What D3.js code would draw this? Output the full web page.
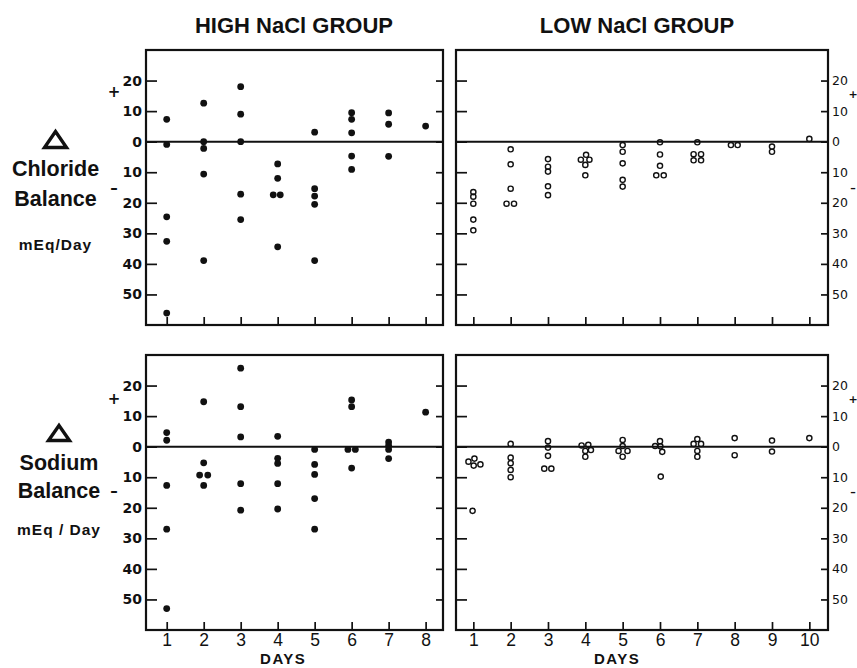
<!DOCTYPE html>
<html><head><meta charset="utf-8">
<script src="https://cdn.jsdelivr.net/npm/d3@7"></script>
<style>body{margin:0;background:#fff}svg{display:block}</style>
</head><body>
<svg id="c" width="857" height="668"></svg>
<script>
// ---- data (day, Δ balance mEq/day) ----
const chlorideHigh = [
  [1,7.3],[1,-0.9],[1,-24.6],[1,-32.6],[1,-56.1],
  [2,12.6],[2,0],[2,-2.2],[2,-10.6],[2,-38.9],
  [3,18],[3,9],[3,0],[3,-17.2],[3,-25.5],
  [4,-7.3],[4,-12],[3.88,-17.4],[4.07,-17.4],[4,-34.4],
  [5,3.1],[5,-15.4],[5,-17.8],[5,-20.5],[5,-38.9],
  [6,9.5],[6,7.3],[6,2.9],[6,-4.7],[6,-9.1],
  [7,9.4],[7,5.7],[7,-4.8],
  [8,5.1]
];
const sodiumHigh = [
  [1,4.6],[1,2.1],[1,-12.7],[1,-27],[1,-53],
  [2,14.7],[2,-5.3],[1.89,-9.3],[2.11,-9.3],[2,-12.7],
  [3,25.7],[3,13.1],[3,3.2],[3,-12.1],[3,-20.8],
  [4,3.4],[4,-3.8],[4,-5.5],[4,-12.1],[4,-20.4],
  [5,-0.9],[5,-5.8],[5,-9.1],[5,-17],[5,-27],
  [6,15.3],[6,13.1],[5.9,-0.9],[6.1,-0.9],[6,-7],
  [7,1.5],[7,0.3],[7,-0.9],[7,-3.9],
  [8,11.3]
];
const chlorideLow = [
  [1,-16.5],[1,-18],[1,-20.3],[1,-25.5],[1,-29],
  [2,-2.5],[2,-7.4],[2,-15.4],[1.89,-20.3],[2.09,-20.3],
  [3,-5.7],[3,-8.2],[3,-9.8],[3,-14.6],[3,-17.5],
  [4.02,-4.3],[3.88,-5.9],[4.11,-5.9],[4,-7.6],[4,-11],
  [5,-1.1],[5,-3.3],[5,-7.1],[5,-12.5],[5,-14.7],
  [6,-0.2],[6,-4.2],[6,-7.9],[5.9,-11],[6.1,-11],
  [7,-0.2],[6.9,-4.1],[7.1,-4.1],[6.9,-6.1],[7.1,-6.1],
  [7.9,-1.1],[8.08,-1.1],
  [9,-1.6],[9,-3.3],
  [10,0.9]
];
const sodiumLow = [
  [0.87,-4.9],[1.03,-3.9],[1.01,-6.2],[1.19,-5.8],[0.98,-21],
  [2,0.9],[2,-3.6],[2,-5.4],[2,-7.6],[2,-10],
  [3,1.8],[3,-0.3],[3,-3],[2.9,-7.2],[3.09,-7.2],
  [3.9,0.4],[4.08,0.6],[4,-1.4],[4.15,-1.1],[4,-3.3],
  [5,2.2],[5,0.2],[4.89,-1.4],[5.13,-1.4],[5,-3.3],
  [5.87,0.2],[6,1.8],[6.01,0.1],[6.06,-1.7],[6.02,-9.8],
  [7,2.5],[6.9,0.9],[7.1,0.9],[7,-1.4],[7,-3.3],
  [8,2.8],[8,-2.8],
  [9,2],[9,-1.6],
  [10,2.8]
];
const yTicks = [20,10,0,-10,-20,-30,-40,-50];
const daysHigh = [1,2,3,4,5,6,7,8];
const daysLow = [1,2,3,4,5,6,7,8,9,10];
const groupTitles = ["HIGH NaCl GROUP","LOW NaCl GROUP"];
const rowLabels = [["Chloride","Balance","mEq/Day"],["Sodium","Balance","mEq / Day"]];
const xAxisTitle = "DAYS";

const svg = d3.select("#c");
const ink = "#111";

const cols = [
  {x0:146, x1:443, domain:[0.44,8.47], days:daysHigh, filled:true},
  {x0:456, x1:828, domain:[0.536,10.5], days:daysLow, filled:false}
];
const rows = [{y0:50, y1:325}, {y0:355, y1:630}];
const panels = [
  {c:0,r:0,data:chlorideHigh},{c:1,r:0,data:chlorideLow},
  {c:0,r:1,data:sodiumHigh},{c:1,r:1,data:sodiumLow}
];

panels.forEach(p => {
  const C = cols[p.c], R = rows[p.r];
  const x = d3.scaleLinear().domain(C.domain).range([C.x0, C.x1]);
  const y = d3.scaleLinear().domain([30,-60]).range([R.y0, R.y1]);
  const g = svg.append("g");

  const la = g.append("g").attr("transform",`translate(${C.x0},0)`)
    .call(d3.axisLeft(y).tickValues(yTicks).tickSize(-11).tickPadding(4)
      .tickFormat(p.c===0 ? d=>Math.abs(d) : ()=>""));
  const ra = g.append("g").attr("transform",`translate(${C.x1},0)`)
    .call(d3.axisRight(y).tickValues(yTicks).tickSize(-7).tickPadding(4)
      .tickFormat(p.c===1 ? d=>Math.abs(d) : ()=>""));
  const ba = g.append("g").attr("transform",`translate(0,${R.y1})`)
    .call(d3.axisBottom(x).tickValues(C.days).tickSize(-8).tickPadding(4)
      .tickFormat(p.r===1 ? d=>d : ()=>""));
  [la,ra,ba].forEach(a => {
    a.select(".domain").remove();
    a.selectAll(".tick line").attr("stroke",ink).attr("stroke-width",1.7);
  });
  la.selectAll("text").attr("font-family","DejaVu Sans").attr("font-weight","bold")
    .attr("font-size",14).attr("fill",ink);
  ra.selectAll("text").attr("font-family","DejaVu Sans")
    .attr("font-size",12.5).attr("fill",ink);
  ba.selectAll("text").attr("font-family","Liberation Sans")
    .attr("font-size",17.5).attr("fill",ink);

  g.append("line").attr("x1",C.x0).attr("x2",C.x1)
    .attr("y1",y(0)).attr("y2",y(0)).attr("stroke",ink).attr("stroke-width",2);
  g.append("rect").attr("x",C.x0).attr("y",R.y0)
    .attr("width",C.x1-C.x0).attr("height",R.y1-R.y0)
    .attr("fill","none").attr("stroke",ink).attr("stroke-width",2.2);

  g.selectAll("circle.pt").data(p.data).join("circle").attr("class","pt")
    .attr("cx",d=>x(d[0])).attr("cy",d=>y(d[1]))
    .attr("r", C.filled ? 3.4 : 2.6)
    .attr("fill", C.filled ? ink : "none")
    .attr("stroke", ink).attr("stroke-width", C.filled ? 0 : 1.4);

  if (p.r===1) {
    g.append("text").attr("x", p.c===0 ? x(4.15) : x(4.85)).attr("y",664)
      .attr("text-anchor","middle").attr("font-family","Liberation Sans")
      .attr("font-weight","bold").attr("font-size",15).attr("letter-spacing",1.5)
      .attr("fill",ink).text(xAxisTitle);
  }
});

[294, 637].forEach((cx,i) => {
  svg.append("text").attr("x",cx).attr("y",33).attr("text-anchor","middle")
    .attr("font-family","Liberation Sans").attr("font-weight","bold")
    .attr("font-size",22).attr("fill",ink).text(groupTitles[i]);
});

const rowLab = [
  {tri:[43,130,68,149], base:[176,206,250], plus:[114,92], minus:[114,188], rplus:[853,94], rminus:[853,188]},
  {tri:[47,424,71,442], base:[470,498,535], plus:[114,399], minus:[114,491], rplus:[853,399], rminus:[853,492]}
];
rowLab.forEach((L,i) => {
  const [tx0,ty0,tx1,ty1] = L.tri;
  svg.append("path")
    .attr("d",`M${(tx0+tx1)/2},${ty0+1.5}L${tx1-1.5},${ty1-1.5}L${tx0+1.5},${ty1-1.5}Z`)
    .attr("fill","none").attr("stroke",ink).attr("stroke-width",3.4).attr("stroke-linejoin","miter");
  const cx = (tx0+tx1)/2;
  svg.append("text").attr("x",cx).attr("y",L.base[0]).attr("text-anchor","middle")
    .attr("font-family","Liberation Sans").attr("font-weight","bold").attr("font-size",21.5)
    .attr("fill",ink).text(rowLabels[i][0]);
  svg.append("text").attr("x",cx).attr("y",L.base[1]).attr("text-anchor","middle")
    .attr("font-family","Liberation Sans").attr("font-weight","bold").attr("font-size",21.5)
    .attr("fill",ink).text(rowLabels[i][1]);
  svg.append("text").attr("x",cx).attr("y",L.base[2]).attr("text-anchor","middle")
    .attr("font-family","Liberation Sans").attr("font-weight","bold").attr("font-size",15.5)
    .attr("letter-spacing",1).attr("fill",ink).text(rowLabels[i][2]);
  [[L.plus,"+",15],[L.minus,"–",15],[L.rplus,"+",11],[L.rminus,"–",11]].forEach(([pos,s,fs]) => {
    svg.append("text").attr("x",pos[0]).attr("y",pos[1]).attr("dy","0.35em")
      .attr("text-anchor","middle").attr("font-family","DejaVu Sans").attr("font-weight","bold")
      .attr("font-size",fs).attr("fill",ink).text(s);
  });
});
</script></body></html>
